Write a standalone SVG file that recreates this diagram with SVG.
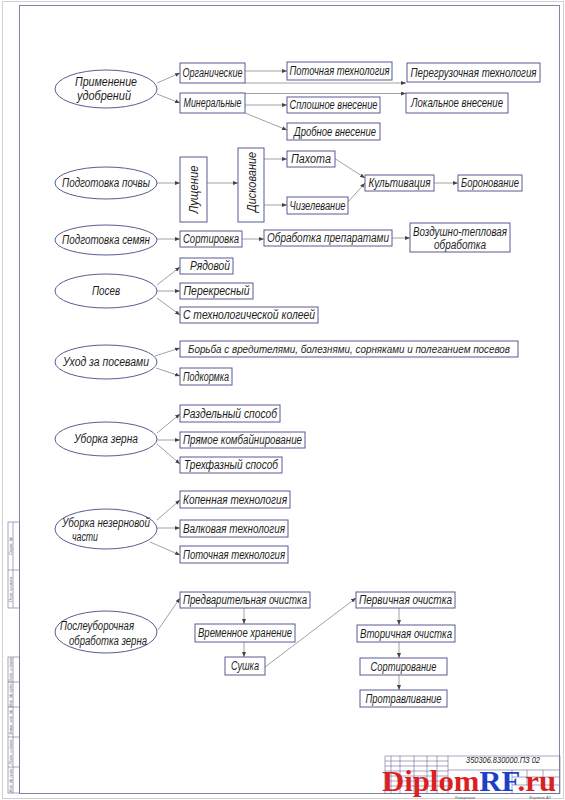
<svg xmlns="http://www.w3.org/2000/svg" width="565" height="800" viewBox="0 0 565 800">
<defs>
<marker id="ah" markerUnits="userSpaceOnUse" markerWidth="6" markerHeight="4" refX="5" refY="2" orient="auto">
<path d="M0,0 L5,2 L0,4 z" fill="#444"/>
</marker>
<style>
.b{fill:#fff;stroke:#5b5b95;stroke-width:1}
.e{fill:#fff;stroke:#5b5b95;stroke-width:1}
.t{font-family:"Liberation Sans",Arial,sans-serif;font-style:italic;font-size:12px;fill:#1e1e1e;text-anchor:middle}
.c line,.c path{stroke:#8a8a8a;stroke-width:0.8;fill:none;marker-end:url(#ah)}
.f{fill:none;stroke:#8484a6;stroke-width:1}
.g{fill:none;stroke:#6a6a9a;stroke-width:0.6}
.s{font-family:"Liberation Sans",Arial,sans-serif;font-style:italic;font-size:4px;fill:#555;text-anchor:middle}
</style>
</defs>
<rect width="565" height="800" fill="#fff"/>
<rect x="2.5" y="1.5" width="561" height="797" fill="none" stroke="#d0d0d0" stroke-width="1"/>
<rect class="f" x="19.5" y="5.5" width="540" height="788"/>

<!-- left strip -->
<g id="strip">
<rect class="g" x="8" y="522" width="11.5" height="86"/>
<line class="g" x1="8" y1="570" x2="19.5" y2="570"/>
<line class="g" x1="13" y1="522" x2="13" y2="608"/>
<rect class="g" x="8" y="657" width="11.5" height="136"/>
<line class="g" x1="8" y1="682" x2="19.5" y2="682"/>
<line class="g" x1="8" y1="707" x2="19.5" y2="707"/>
<line class="g" x1="8" y1="737" x2="19.5" y2="737"/>
<line class="g" x1="8" y1="767" x2="19.5" y2="767"/>
<line class="g" x1="13" y1="657" x2="13" y2="793"/>
<text class="s" transform="translate(11.5,589) rotate(-90)">Перв. примен.</text>
<text class="s" transform="translate(11.5,546) rotate(-90)">Справ. №</text>
<text class="s" transform="translate(11.5,780) rotate(-90)">Инв. № подл.</text>
<text class="s" transform="translate(11.5,752) rotate(-90)">Подп. и дата</text>
<text class="s" transform="translate(11.5,722) rotate(-90)">Взам. инв. №</text>
<text class="s" transform="translate(11.5,695) rotate(-90)">Инв. № дубл.</text>
<text class="s" transform="translate(11.5,670) rotate(-90)">Подп. и дата</text>
</g>

<!-- title block -->
<g id="titleblock">
<rect class="g" x="385" y="756" width="175" height="37.5"/>
<line class="g" x1="448" y1="756" x2="448" y2="793"/>
<line class="g" x1="391" y1="756" x2="391" y2="793"/>
<line class="g" x1="400" y1="756" x2="400" y2="793"/>
<line class="g" x1="414" y1="756" x2="414" y2="793"/>
<line class="g" x1="427" y1="756" x2="427" y2="793"/>
<line class="g" x1="437" y1="756" x2="437" y2="793"/>
<line class="g" x1="385" y1="761" x2="448" y2="761"/>
<line class="g" x1="385" y1="766" x2="448" y2="766"/>
<line class="g" x1="385" y1="771" x2="448" y2="771"/>
<line class="g" x1="385" y1="776" x2="448" y2="776"/>
<line class="g" x1="385" y1="781" x2="448" y2="781"/>
<line class="g" x1="385" y1="786" x2="448" y2="786"/>
<line class="g" x1="448" y1="770" x2="560" y2="770"/>
<line class="g" x1="512" y1="770" x2="512" y2="793"/>
<line class="g" x1="512" y1="777" x2="560" y2="777"/>
<line class="g" x1="512" y1="785" x2="560" y2="785"/>
<line class="g" x1="527" y1="770" x2="527" y2="785"/>
<line class="g" x1="543" y1="770" x2="543" y2="785"/>
<text class="t" x="503" y="763" style="font-size:9px" textLength="74" lengthAdjust="spacingAndGlyphs">350306.830000.ПЗ 02</text>
<text class="s" x="465" y="799">Копировал</text>
<text class="s" x="540" y="799">Формат А1</text>
</g>

<!-- connectors -->
<g id="connectors" class="c">
<line x1="157" y1="83" x2="180" y2="73"/>
<line x1="157" y1="94" x2="180" y2="103"/>
<line x1="245" y1="71" x2="287" y2="71"/>
<line x1="245" y1="83" x2="406" y2="83"/>
<line x1="245" y1="93.5" x2="406" y2="93.5"/>
<line x1="245" y1="105" x2="287" y2="105"/>
<line x1="245" y1="113" x2="287" y2="130"/>
<line x1="157" y1="183" x2="180" y2="183"/>
<line x1="207" y1="183" x2="238" y2="183"/>
<line x1="264" y1="159" x2="287" y2="159"/>
<line x1="264" y1="205" x2="287" y2="205"/>
<line x1="334" y1="158" x2="365" y2="178"/>
<line x1="348" y1="202" x2="365" y2="183"/>
<line x1="434" y1="183" x2="458" y2="183"/>
<line x1="157" y1="239" x2="180" y2="239"/>
<line x1="242" y1="239" x2="264" y2="239"/>
<line x1="392" y1="238" x2="410" y2="238"/>
<line x1="157" y1="285" x2="180" y2="267"/>
<line x1="157" y1="291" x2="180" y2="291"/>
<line x1="157" y1="298" x2="180" y2="315"/>
<line x1="155" y1="356" x2="180" y2="348"/>
<line x1="156" y1="368" x2="180" y2="376"/>
<line x1="157" y1="433" x2="180" y2="414"/>
<line x1="157" y1="440" x2="180" y2="440"/>
<line x1="157" y1="444" x2="180" y2="464"/>
<line x1="157" y1="520" x2="180" y2="500"/>
<line x1="157" y1="528" x2="180" y2="528"/>
<line x1="150" y1="542" x2="180" y2="555"/>
<line x1="158" y1="630" x2="180" y2="598"/>
<line x1="244" y1="608" x2="244" y2="624"/>
<line x1="244" y1="642" x2="244" y2="657"/>
<line x1="265" y1="667" x2="356" y2="598"/>
<line x1="399" y1="608" x2="399" y2="625"/>
<line x1="399" y1="642" x2="399" y2="658"/>
<line x1="399" y1="675" x2="399" y2="690"/>
</g>

<!-- ellipses -->
<g id="e1"><ellipse class="e" cx="106" cy="89" rx="51" ry="19"/><text class="t" x="106" y="86" textLength="62" lengthAdjust="spacingAndGlyphs">Применение</text><text class="t" x="104" y="100" textLength="54" lengthAdjust="spacingAndGlyphs">удобрений</text></g>
<g id="e2"><ellipse class="e" cx="106" cy="183" rx="51" ry="16"/><text class="t" x="106" y="187" textLength="88" lengthAdjust="spacingAndGlyphs">Подготовка почвы</text></g>
<g id="e3"><ellipse class="e" cx="106" cy="240" rx="51" ry="15"/><text class="t" x="106" y="244" textLength="88" lengthAdjust="spacingAndGlyphs">Подготовка семян</text></g>
<g id="e4"><ellipse class="e" cx="106" cy="291" rx="51" ry="17"/><text class="t" x="106" y="295" textLength="28" lengthAdjust="spacingAndGlyphs">Посев</text></g>
<g id="e5"><ellipse class="e" cx="106" cy="362" rx="51" ry="17"/><text class="t" x="106" y="366" textLength="86" lengthAdjust="spacingAndGlyphs">Уход за посевами</text></g>
<g id="e6"><ellipse class="e" cx="106" cy="439" rx="51" ry="17"/><text class="t" x="106" y="443" textLength="64" lengthAdjust="spacingAndGlyphs">Уборка зерна</text></g>
<g id="e7"><ellipse class="e" cx="106" cy="529" rx="51" ry="20"/><text class="t" x="106" y="527" textLength="88" lengthAdjust="spacingAndGlyphs">Уборка незерновой</text><text class="t" x="85" y="541" textLength="26" lengthAdjust="spacingAndGlyphs">части</text></g>
<g id="e8"><ellipse class="e" cx="106" cy="632" rx="51" ry="21"/><text class="t" x="97" y="630" textLength="74" lengthAdjust="spacingAndGlyphs">Послеуборочная</text><text class="t" x="108" y="645" textLength="78" lengthAdjust="spacingAndGlyphs">обработка зерна</text></g>

<!-- boxes -->
<g id="n1"><rect class="b" x="180" y="63" width="65" height="20"/><text class="t" x="212.5" y="77" textLength="60" lengthAdjust="spacingAndGlyphs">Органические</text></g>
<g id="n2"><rect class="b" x="180" y="93" width="65" height="20"/><text class="t" x="212.5" y="107" textLength="58" lengthAdjust="spacingAndGlyphs">Минеральные</text></g>
<g id="n3"><rect class="b" x="287" y="62" width="105" height="18"/><text class="t" x="339.5" y="75" textLength="100" lengthAdjust="spacingAndGlyphs">Поточная технология</text></g>
<g id="n4"><rect class="b" x="407" y="63" width="133" height="19"/><text class="t" x="473.5" y="77" textLength="126" lengthAdjust="spacingAndGlyphs">Перегрузочная технология</text></g>
<g id="n5"><rect class="b" x="406" y="93" width="102" height="20"/><text class="t" x="457" y="107" textLength="92" lengthAdjust="spacingAndGlyphs">Локальное внесение</text></g>
<g id="n6"><rect class="b" x="287" y="97" width="93" height="16"/><text class="t" x="333.5" y="109" textLength="88" lengthAdjust="spacingAndGlyphs">Сплошное внесение</text></g>
<g id="n7"><rect class="b" x="287" y="123" width="93" height="17"/><text class="t" x="335" y="136" textLength="82" lengthAdjust="spacingAndGlyphs">Дробное внесение</text></g>
<g id="n8"><rect class="b" x="180" y="157" width="27" height="65"/><text class="t" transform="translate(197.5,189.5) rotate(-90)" textLength="48" lengthAdjust="spacingAndGlyphs">Лущение</text></g>
<g id="n9"><rect class="b" x="238" y="148" width="26" height="74"/><text class="t" transform="translate(255.5,182) rotate(-90)" textLength="60" lengthAdjust="spacingAndGlyphs">Дискование</text></g>
<g id="n10"><rect class="b" x="287" y="151" width="48" height="16"/><text class="t" x="311" y="163" textLength="40" lengthAdjust="spacingAndGlyphs">Пахота</text></g>
<g id="n11"><rect class="b" x="287" y="197" width="61" height="17"/><text class="t" x="317.5" y="210" textLength="56" lengthAdjust="spacingAndGlyphs">Чизелевание</text></g>
<g id="n12"><rect class="b" x="365" y="175" width="69" height="16"/><text class="t" x="399.5" y="187" textLength="62" lengthAdjust="spacingAndGlyphs">Культивация</text></g>
<g id="n13"><rect class="b" x="458" y="175" width="64" height="16"/><text class="t" x="490" y="187" textLength="58" lengthAdjust="spacingAndGlyphs">Боронование</text></g>
<g id="n14"><rect class="b" x="180" y="231" width="62" height="16"/><text class="t" x="211" y="243" textLength="56" lengthAdjust="spacingAndGlyphs">Сортировка</text></g>
<g id="n15"><rect class="b" x="264" y="230" width="128" height="16"/><text class="t" x="328" y="242" textLength="122" lengthAdjust="spacingAndGlyphs">Обработка препаратами</text></g>
<g id="n16"><rect class="b" x="410" y="223" width="100" height="29"/><text class="t" x="460" y="236" textLength="94" lengthAdjust="spacingAndGlyphs">Воздушно-тепловая</text><text class="t" x="460" y="249" textLength="52" lengthAdjust="spacingAndGlyphs">обработка</text></g>
<g id="n17"><rect class="b" x="180" y="258" width="53" height="16"/><text class="t" x="210" y="270" textLength="40" lengthAdjust="spacingAndGlyphs">Рядовой</text></g>
<g id="n18"><rect class="b" x="180" y="283" width="73" height="16"/><text class="t" x="216.5" y="295" textLength="66" lengthAdjust="spacingAndGlyphs">Перекресный</text></g>
<g id="n19"><rect class="b" x="180" y="307" width="138" height="16"/><text class="t" x="249" y="319" textLength="132" lengthAdjust="spacingAndGlyphs">С технологической колеей</text></g>
<g id="n20"><rect class="b" x="180" y="341" width="338" height="16"/><text class="t" x="349" y="353" style="font-size:11px" textLength="322" lengthAdjust="spacingAndGlyphs">Борьба с вредителями, болезнями, сорняками и полеганием посевов</text></g>
<g id="n21"><rect class="b" x="180" y="368" width="52" height="17"/><text class="t" x="206" y="381" textLength="46" lengthAdjust="spacingAndGlyphs">Подкормка</text></g>
<g id="n22"><rect class="b" x="180" y="405" width="100" height="17"/><text class="t" x="230" y="418" textLength="94" lengthAdjust="spacingAndGlyphs">Раздельный способ</text></g>
<g id="n23"><rect class="b" x="180" y="432" width="125" height="16"/><text class="t" x="242.5" y="444" textLength="119" lengthAdjust="spacingAndGlyphs">Прямое комбайнирование</text></g>
<g id="n24"><rect class="b" x="180" y="457" width="102" height="16"/><text class="t" x="231" y="469" textLength="94" lengthAdjust="spacingAndGlyphs">Трехфазный способ</text></g>
<g id="n25"><rect class="b" x="180" y="491" width="110" height="17"/><text class="t" x="235" y="504" textLength="104" lengthAdjust="spacingAndGlyphs">Копенная технология</text></g>
<g id="n26"><rect class="b" x="180" y="520" width="108" height="17"/><text class="t" x="234" y="533" textLength="102" lengthAdjust="spacingAndGlyphs">Валковая технология</text></g>
<g id="n27"><rect class="b" x="180" y="546" width="108" height="17"/><text class="t" x="234" y="559" textLength="102" lengthAdjust="spacingAndGlyphs">Поточная технология</text></g>
<g id="n28"><rect class="b" x="180" y="592" width="130" height="16"/><text class="t" x="245" y="604" textLength="124" lengthAdjust="spacingAndGlyphs">Предварительная очистка</text></g>
<g id="n29"><rect class="b" x="195" y="624" width="100" height="18"/><text class="t" x="245" y="637" textLength="94" lengthAdjust="spacingAndGlyphs">Временное хранение</text></g>
<g id="n30"><rect class="b" x="225" y="657" width="40" height="18"/><text class="t" x="245" y="670" textLength="28" lengthAdjust="spacingAndGlyphs">Сушка</text></g>
<g id="n31"><rect class="b" x="356" y="592" width="99" height="16"/><text class="t" x="405.5" y="604" textLength="93" lengthAdjust="spacingAndGlyphs">Первичная очистка</text></g>
<g id="n32"><rect class="b" x="357" y="625" width="98" height="17"/><text class="t" x="406" y="638" textLength="92" lengthAdjust="spacingAndGlyphs">Вторичная очистка</text></g>
<g id="n33"><rect class="b" x="360" y="658" width="87" height="17"/><text class="t" x="403.5" y="671" textLength="66" lengthAdjust="spacingAndGlyphs">Сортирование</text></g>
<g id="n34"><rect class="b" x="360" y="690" width="87" height="17"/><text class="t" x="403.5" y="703" textLength="76" lengthAdjust="spacingAndGlyphs">Протравливание</text></g>

<!-- watermark -->
<text x="382" y="791" textLength="174" lengthAdjust="spacingAndGlyphs" style="font-family:'Liberation Serif','Times New Roman',serif;font-weight:bold;font-size:29px"><tspan fill="#dc1f1f">Diplom</tspan><tspan fill="#1f3fc8">RF</tspan><tspan fill="#dc1f1f">.ru</tspan></text>
</svg>
